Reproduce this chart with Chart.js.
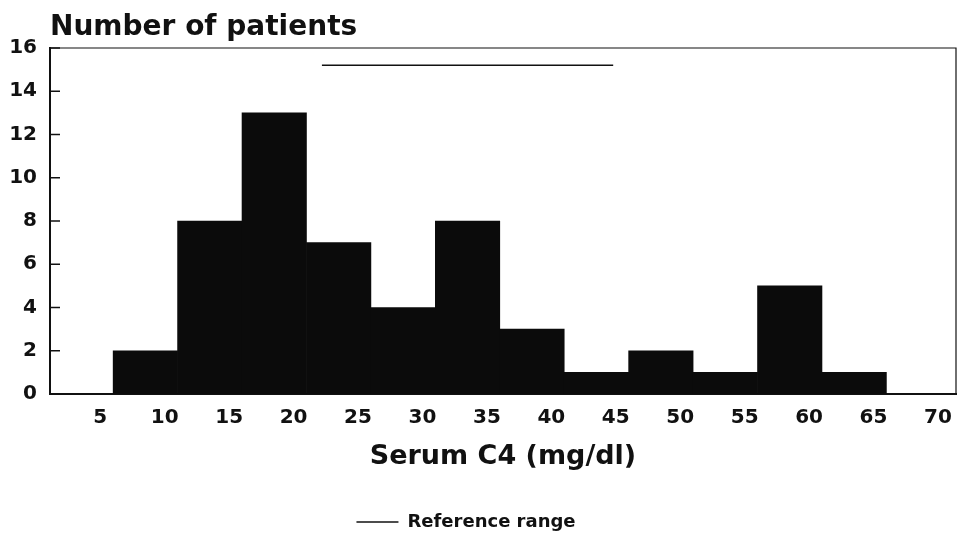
<!DOCTYPE html>
<html>
<head>
<meta charset="utf-8">
<script src="https://cdn.jsdelivr.net/npm/chart.js@4/dist/chart.umd.min.js"></script>
<style>
  html, body { margin: 0; padding: 0; background: #fff; }
  #wrap { width: 962px; height: 541px; }
</style>
</head>
<body>
<div id="wrap"><canvas id="chart"></canvas></div>
<script>
// histogram bins (mg/dl), lower edge of each 5 mg/dl bin
var binStart = [6, 11, 16, 21, 26, 31, 36, 41, 46, 51, 56, 61];
var binWidth = 5;
var patients = [2, 8, 13, 7, 4, 8, 3, 1, 2, 1, 5, 1];
// reference range bar drawn near the top
var refRange = [22.2, 44.8];
var refLevel = 15.2;
var xTicks = [5, 10, 15, 20, 25, 30, 35, 40, 45, 50, 55, 60, 65, 70];
var yTicks = [0, 2, 4, 6, 8, 10, 12, 14, 16];

var FONT = '"DejaVu Sans", Verdana, sans-serif';

var barData = binStart.map(function (s, i) {
    return { x: s + binWidth / 2, y: patients[i] };
});
var refData = refRange.map(function (v) { return { x: v, y: refLevel }; });

// frame, inward y ticks and the y title
var framePlugin = {
    id: 'frame',
    afterLayout: function (chart) {
        // legend sits a little left of centre in the original
        var lg = chart.legend;
        if (lg) { lg.left -= 12; lg.right -= 12; }
    },
    afterDraw: function (chart) {
        var ctx = chart.ctx, a = chart.chartArea;
        var ys = chart.scales.y;
        ctx.save();
        ctx.strokeStyle = '#111';
        ctx.lineWidth = 1.2;
        ctx.beginPath();
        ctx.moveTo(a.left, a.top);
        ctx.lineTo(a.right, a.top);
        ctx.lineTo(a.right, a.bottom);
        ctx.stroke();
        ctx.lineWidth = 1.5;
        yTicks.forEach(function (t) {
            var py = ys.getPixelForValue(t);
            ctx.beginPath();
            ctx.moveTo(a.left, py);
            ctx.lineTo(a.left + 10, py);
            ctx.stroke();
        });
        ctx.fillStyle = '#111';
        ctx.font = 'bold 28px ' + FONT;
        ctx.textBaseline = 'alphabetic';
        ctx.textAlign = 'left';
        ctx.fillText('Number of patients', a.left, 35);
        ctx.restore();
    }
};

new Chart(document.getElementById('chart'), {
    type: 'bar',
    data: {
        datasets: [{
            type: 'bar',
            label: 'Patients',
            data: barData,
            backgroundColor: '#0b0b0b',
            borderWidth: 0,
            barPercentage: 1,
            categoryPercentage: 1,
            grouped: false,
            order: 2
        }, {
            type: 'line',
            label: 'Reference range',
            data: refData,
            borderColor: '#111',
            backgroundColor: '#111',
            borderWidth: 1.5,
            pointRadius: 0,
            pointStyle: 'line',
            fill: false,
            order: 1
        }]
    },
    options: {
        responsive: true,
        maintainAspectRatio: false,
        animation: false,
        layout: { padding: { left: 0, right: 6, top: 48, bottom: 0 } },
        plugins: {
            title: { display: false },
            tooltip: { enabled: false },
            legend: {
                position: 'bottom',
                labels: {
                    filter: function (item) { return item.text === 'Reference range'; },
                    usePointStyle: true,
                    pointStyleWidth: 42,
                    color: '#111',
                    padding: 2,
                    font: { family: FONT, size: 18, weight: 'bold' }
                }
            }
        },
        scales: {
            x: {
                type: 'linear',
                offset: false,
                min: 1.1,
                max: 71.4,
                grid: { display: false },
                border: { display: true, color: '#111', width: 2 },
                afterBuildTicks: function (s) {
                    s.ticks = xTicks.map(function (v) { return { value: v }; });
                },
                afterFit: function (s) { s.height = 117; },
                ticks: {
                    color: '#111',
                    padding: 4,
                    maxRotation: 0,
                    autoSkip: false,
                    font: { family: FONT, size: 20, weight: 'bold' }
                },
                title: {
                    display: true,
                    text: 'Serum C4 (mg/dl)',
                    color: '#111',
                    padding: { top: 4, bottom: 38 },
                    font: { family: FONT, size: 27, weight: 'bold' }
                }
            },
            y: {
                min: 0,
                max: 16,
                grid: { display: false },
                border: { display: true, color: '#111', width: 2 },
                afterBuildTicks: function (s) {
                    s.ticks = yTicks.map(function (v) { return { value: v }; });
                },
                afterFit: function (s) { s.width = 50; },
                ticks: {
                    color: '#111',
                    padding: 5,
                    font: { family: FONT, size: 20, weight: 'bold' }
                }
            }
        }
    },
    plugins: [framePlugin]
});
</script>
</body>
</html>
